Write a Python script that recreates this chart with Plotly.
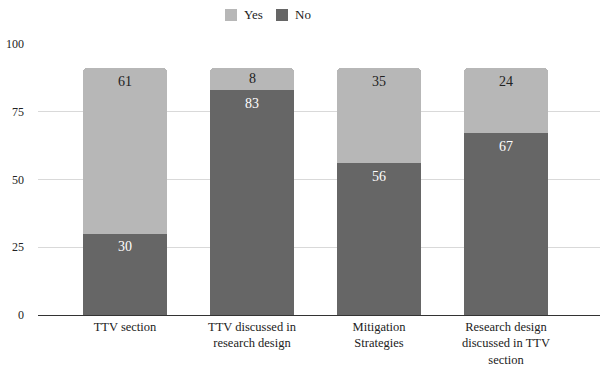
import plotly.graph_objects as go

categories = ["TTV section", "TTV discussed in<br>research design", "Mitigation<br>Strategies",
              "Research design<br>discussed in TTV<br>section"]
no_vals = [30, 83, 56, 67]
yes_vals = [61, 8, 35, 24]
y_ticks = [0, 25, 50, 75, 100]
series_names = ["Yes", "No"]

FONT = "Liberation Serif"
x = list(range(len(categories)))
C_NO = "#666666"
C_YES = "#b7b7b7"

W, H = 600, 366
ML, MR, MT, MB = 38, 0, 44, 51
PW, PH = W - ML - MR, H - MT - MB


def px_x(p):
    return (p - ML) / PW


def px_y(p):
    return (H - MB - p) / PH


fig = go.Figure()
fig.add_trace(go.Bar(x=x, y=no_vals, name="No", marker=dict(color=C_NO, line=dict(width=0)),
                     showlegend=False, hoverinfo="y"))
fig.add_trace(go.Bar(x=x, y=yes_vals, name="Yes", marker=dict(color=C_YES, line=dict(width=0)),
                     showlegend=False, hoverinfo="y"))

# value labels just below the top of each segment
for i in x:
    top_no = no_vals[i]
    top_yes = no_vals[i] + yes_vals[i]
    fig.add_annotation(x=i, y=top_no, text=str(no_vals[i]), showarrow=False,
                       yanchor="middle", yshift=-13, font=dict(color="white", size=14, family=FONT))
    fig.add_annotation(x=i, y=top_yes, text=str(yes_vals[i]), showarrow=False,
                       yanchor="middle", yshift=-13 if yes_vals[i] > 10 else -10,
                       font=dict(color="#222222", size=14, family=FONT))

# manual legend (top centre)
legend_cols = [C_YES, C_NO]
legend_left = [225, 276]
for name, col, lx in zip(series_names, legend_cols, legend_left):
    fig.add_shape(type="rect", xref="paper", yref="paper",
                  x0=px_x(lx), x1=px_x(lx + 12), y0=px_y(21), y1=px_y(9),
                  fillcolor=col, line=dict(width=0))
    fig.add_annotation(xref="paper", yref="paper", x=px_x(lx + 17), y=px_y(15),
                       text=name, showarrow=False, xanchor="left", yanchor="middle",
                       font=dict(size=13, color="#222222", family=FONT))

fig.update_layout(
    width=W, height=H,
    barmode="stack", bargap=0.34, barcornerradius=3,
    margin=dict(l=ML, r=MR, t=MT, b=MB),
    paper_bgcolor="white", plot_bgcolor="white",
    font=dict(family=FONT, size=14, color="#222222"),
    showlegend=False,
)
fig.update_xaxes(tickmode="array", tickvals=x, ticktext=categories, range=[-0.685, 3.74],
                 showgrid=False, showline=True, linecolor="#333333", linewidth=1,
                 ticks="", tickfont=dict(size=12.5, color="#222222"), zeroline=False,
                 automargin=False)
fig.update_yaxes(range=[0, 100], tickvals=y_ticks, showgrid=True, gridcolor="#d9d9d9",
                 zeroline=False, showline=False, ticks="", tickfont=dict(size=12, color="#222222"),
                 ticklabelstandoff=13, automargin=False)
fig.write_html("out.html")
